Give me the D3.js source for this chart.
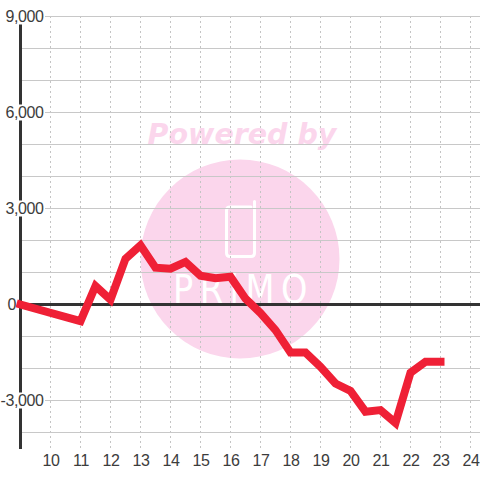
<!DOCTYPE html>
<html>
<head>
<meta charset="utf-8">
<script src="https://d3js.org/d3.v7.min.js"></script>
<style>
html, body { margin: 0; padding: 0; background: #fff; }
svg { display: block; }
text { font-family: "Liberation Sans", Arial, sans-serif; }
</style>
</head>
<body>
<div id="chart"></div>
<script>
var hours  = [9, 11, 11.5, 12, 12.5, 13, 13.5, 14, 14.5, 15, 15.5, 16, 16.5, 17, 17.5, 18, 18.5, 19, 19.5, 20, 20.5, 21, 21.5, 22, 22.5, 23];
var values = [0, -520, 580, 150, 1430, 1850, 1150, 1120, 1330, 900, 820, 870, 180, -270, -800, -1500, -1500, -1950, -2470, -2700, -3350, -3300, -3700, -2130, -1790, -1790];
var xTicks = [10, 11, 12, 13, 14, 15, 16, 17, 18, 19, 20, 21, 22, 23, 24];
var yGrid  = [9000, 8000, 7000, 6000, 5000, 4000, 3000, 2000, 1000, -1000, -2000, -3000, -4000];
var yLabels = [9000, 6000, 3000, 0, -3000];

var width = 480, height = 480;

var x = d3.scaleLinear().domain([9, 24]).range([20.5, 470.5]);
var y = d3.scaleLinear().domain([9000, -4000]).range([16.5, 432.5]);

var svg = d3.select("#chart").append("svg")
	.attr("width", width)
	.attr("height", height);

//watermark, sits under the grid
var mark = svg.append("g").attr("class", "watermark");
mark.append("text")
	.attr("x", 242).attr("y", 144)
	.attr("text-anchor", "middle")
	.attr("fill", "#fbd6ec")
	.style("font-family", "DejaVu Sans")
	.style("font-size", "28.5px")
	.style("font-weight", "bold")
	.style("font-style", "italic")
	.text("Powered by");
mark.append("circle")
	.attr("cx", 240).attr("cy", 259).attr("r", 99.5)
	.attr("fill", "#fbd6ec");
mark.append("path")
	.attr("d", "M251 207 H230 Q226.500 207 226.500 210.500 V253 Q226.500 256.500 230 256.500 H251 Q254.500 256.500 254.500 253 V201.500")
	.attr("fill", "none")
	.attr("stroke", "#fff")
	.attr("stroke-width", 3)
	.attr("stroke-linecap", "round");
mark.append("text")
	.attr("transform", "translate(173,303) scale(1.4,1.65)")
	.attr("fill", "#fff")
	.attr("textLength", 96)
	.attr("lengthAdjust", "spacing")
	.style("font-family", "DejaVu Sans")
	.style("font-size", "24px")
	.text("PRiMO");

//grid
svg.append("g").selectAll("line").data(xTicks).enter().append("line")
	.attr("x1", function(d){ return x(d); })
	.attr("x2", function(d){ return x(d); })
	.attr("y1", 16).attr("y2", 448)
	.attr("stroke", "#c4c4c4")
	.attr("stroke-dasharray", "2,3");
svg.append("g").selectAll("line").data(yGrid).enter().append("line")
	.attr("x1", x(9)).attr("x2", width)
	.attr("y1", function(d){ return y(d); })
	.attr("y2", function(d){ return y(d); })
	.attr("stroke", "#c8c8c8")
	.attr("stroke-width", 1);

//axes
svg.append("line")
	.attr("x1", x(9)).attr("x2", x(9))
	.attr("y1", 16).attr("y2", 449)
	.attr("stroke", "#333").attr("stroke-width", 3);
svg.append("line")
	.attr("x1", x(9)).attr("x2", width)
	.attr("y1", y(0)).attr("y2", y(0))
	.attr("stroke", "#333").attr("stroke-width", 3);

//y labels have a white box behind them that cuts the axis, the 0 sits left of the axis
var yLabel = svg.append("g").selectAll("g").data(yLabels).enter().append("g")
	.attr("transform", function(d){ return "translate(" + (d === 0 ? 16 : 43.5) + "," + y(d) + ")"; });
yLabel.append("text")
	.attr("class", "y-label")
	.attr("text-anchor", "end")
	.attr("dy", "0.35em")
	.attr("fill", "#3c3c3c")
	.style("font-size", "16px")
	.style("letter-spacing", "-0.4px")
	.text(function(d){ return d3.format(",")(d).replace("\u2212", "-"); });
yLabel.insert("rect", "text").each(function(){
	var box = this.parentNode.querySelector("text").getBBox();
	d3.select(this)
		.attr("x", box.x - 1).attr("y", -8)
		.attr("width", box.width + 2).attr("height", 16)
		.attr("fill", "#fff");
});

svg.append("g").selectAll("text").data(xTicks).enter().append("text")
	.attr("x", function(d){ return x(d) + 0.5; })
	.attr("y", 466)
	.attr("text-anchor", "middle")
	.attr("fill", "#3c3c3c")
	.style("font-size", "16px")
	.style("letter-spacing", "-0.4px")
	.text(function(d){ return d; });

//series
var line = d3.line()
	.x(function(d, i){ return x(hours[i]); })
	.y(function(d){ return y(d); });
svg.append("path")
	.datum(values)
	.attr("d", line)
	.attr("fill", "none")
	.attr("stroke", "#ef2036")
	.attr("stroke-width", 8)
	.attr("stroke-linecap", "square")
	.attr("stroke-linejoin", "miter");
</script>
</body>
</html>
